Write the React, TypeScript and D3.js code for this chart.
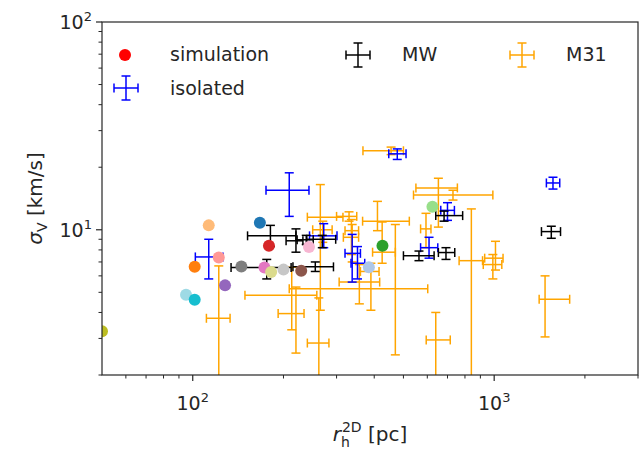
import React from 'react';
import * as d3 from 'd3';

// simulation points
const simX = [50, 95, 101.5, 101.5, 113, 122, 128, 145, 167, 179, 173, 182, 200, 229, 243, 384, 426, 624];
const simY = [3.25, 4.87, 4.6, 6.63, 10.5, 7.35, 5.4, 6.65, 10.8, 8.37, 6.58, 6.27, 6.43, 6.35, 8.27, 6.6, 8.37, 12.9];
const simColors = ['#bcbd22', '#9edae5', '#17becf', '#ff7f0e', '#ffbb78', '#ff9896', '#9467bd', '#7f7f7f', '#1f77b4',
  '#d62728', '#e377c2', '#dbdb8d', '#c7c7c7', '#8c564b', '#f7b6d2', '#aec7e8', '#2ca02c', '#98df8a'];

// MW satellites: x, xlo, xhi, y, ylo, yhi
const mwX = [181, 220, 238, 269, 176, 255, 682, 1547, 563, 692];
const mwXlo = [152, 204, 222, 239, 134, 215, 640, 1435, 500, 653];
const mwXhi = [220, 232, 251, 298, 212, 293, 786, 1660, 632, 740];
const mwY = [9.35, 8.85, 8.95, 9.0, 6.58, 6.63, 11.7, 9.8, 7.5, 7.77];
const mwYlo = [8.3, 7.8, 8.5, 8.2, 5.8, 6.3, 11.0, 9.1, 7.1, 7.2];
const mwYhi = [10.5, 10.1, 9.4, 9.4, 7.2, 7.0, 12.3, 10.4, 7.9, 8.2];

// isolated dwarfs
const isoX = [209, 113, 272, 338, 352, 477, 1567, 700, 608];
const isoXlo = [175, 102, 244, 320, 335, 447, 1490, 665, 570];
const isoXhi = [243, 126, 301, 360, 372, 510, 1650, 738, 650];
const isoY = [15.5, 7.4, 9.35, 7.7, 6.9, 23.2, 16.8, 12.4, 8.2];
const isoYlo = [11.6, 5.8, 8.2, 5.6, 5.8, 21.8, 15.7, 11.1, 7.3];
const isoYhi = [18.8, 9.0, 10.7, 9.5, 8.3, 24.5, 17.9, 13.5, 9.2];

// M31 satellites
const m31X = [265, 213, 220, 262, 122, 470, 357, 338, 270, 455, 330, 410, 425, 653, 840, 730, 594, 1010, 990, 1475, 640, 390, 336];
const m31Xlo = [240, 149, 192, 240, 111, 209, 306, 316, 250, 367, 300, 366, 395, 550, 765, 540, 570, 930, 920, 1410, 595, 360, 320];
const m31Xhi = [315, 258, 234, 283, 133, 602, 417, 355, 290, 500, 350, 523, 470, 755, 915, 990, 617, 1070, 1060, 1780, 715, 415, 355];
const m31Y = [11.5, 4.84, 3.95, 2.85, 3.75, 5.2, 5.6, 9.2, 10.0, 24, 11.6, 11.0, 7.8, 15.9, 7.1, 14.7, 10.1, 7.3, 6.8, 4.63, 2.95, 6.3, 9.9];
const m31Ylo = [4.1, 3.3, 2.55, 1.5, 1.2, 2.5, 4.4, 7.0, 8.7, 23, 11.0, 9.9, 6.9, 10.3, 1.5, 13.9, 8.2, 6.4, 5.8, 3.05, 1.5, 4.1, 7.6];
const m31Yhi = [16.5, 6.6, 5.3, 4.7, 6.7, 10.6, 6.8, 10.6, 11.0, 25, 12.2, 13.7, 10.9, 17.7, 12.6, 15.5, 12.0, 8.8, 7.6, 6.0, 4.0, 6.9, 11.2];

const xMajor = [100, 1000];
const yMajor = [10, 100];
const xMinor = [60, 70, 80, 90, 200, 300, 400, 500, 600, 700, 800, 900, 2000, 3000];
const yMinor = [2, 3, 4, 5, 6, 7, 8, 9, 20, 30, 40, 50, 60, 70, 80, 90];

const L = 102, R = 638, T = 22, B = 375;
const x = d3.scaleLog().domain([50, 3000]).range([L, R]);
const y = d3.scaleLog().domain([2, 100]).range([B, T]);

const font = 'DejaVu Sans, sans-serif';
const txt = '#262626';

function ErrBars({ xs, xlo, xhi, ys, ylo, yhi, color }: any) {
  const cap = 4.5;
  return (
    <g stroke={color} strokeWidth={1.5} fill="none">
      {xs.map((v: number, i: number) => {
        const cx = x(v), cy = y(ys[i]);
        const x0 = x(xlo[i]), x1 = x(xhi[i]), y0 = y(ylo[i]), y1 = y(yhi[i]);
        return (
          <g key={i}>
            <line x1={x0} x2={x1} y1={cy} y2={cy} />
            <line x1={cx} x2={cx} y1={y0} y2={y1} />
            <line x1={x0} x2={x0} y1={cy - cap} y2={cy + cap} />
            <line x1={x1} x2={x1} y1={cy - cap} y2={cy + cap} />
            <line x1={cx - cap} x2={cx + cap} y1={y0} y2={y0} />
            <line x1={cx - cap} x2={cx + cap} y1={y1} y2={y1} />
          </g>
        );
      })}
    </g>
  );
}

function LegendCross({ cx, cy, color }: any) {
  const h = 12, v = 12, cap = 4.5;
  return (
    <g stroke={color} strokeWidth={1.5}>
      <line x1={cx - h} x2={cx + h} y1={cy} y2={cy} />
      <line x1={cx} x2={cx} y1={cy - v} y2={cy + v} />
      <line x1={cx - h} x2={cx - h} y1={cy - cap} y2={cy + cap} />
      <line x1={cx + h} x2={cx + h} y1={cy - cap} y2={cy + cap} />
      <line x1={cx - cap} x2={cx + cap} y1={cy - v} y2={cy - v} />
      <line x1={cx - cap} x2={cx + cap} y1={cy + v} y2={cy + v} />
    </g>
  );
}

export default function App() {
  return (
    <svg width={644} height={450} style={{ position: 'absolute', left: 0, top: 0 }} fontFamily={font}>
      <rect width={644} height={450} fill="white" />
      <defs>
        <clipPath id="plot"><rect x={L} y={T} width={R - L} height={B - T} /></clipPath>
      </defs>
      <g clipPath="url(#plot)">
        <ErrBars xs={m31X} xlo={m31Xlo} xhi={m31Xhi} ys={m31Y} ylo={m31Ylo} yhi={m31Yhi} color="orange" />
        <ErrBars xs={isoX} xlo={isoXlo} xhi={isoXhi} ys={isoY} ylo={isoYlo} yhi={isoYhi} color="blue" />
        <ErrBars xs={mwX} xlo={mwXlo} xhi={mwXhi} ys={mwY} ylo={mwYlo} yhi={mwYhi} color="black" />
        {simX.map((v, i) => (
          <circle key={i} cx={x(v)} cy={y(simY[i])} r={6} fill={simColors[i]} />
        ))}
      </g>
      <rect x={L} y={T} width={R - L} height={B - T} fill="none" stroke={txt} strokeWidth={1.2} />
      {/* x ticks */}
      {xMajor.map(t => (
        <g key={t}>
          <line x1={x(t)} x2={x(t)} y1={B} y2={B + 6} stroke={txt} strokeWidth={1.2} />
          <text x={x(t)} y={B + 35} textAnchor="middle" fontSize={19} fill={txt}>
            10<tspan dy={-8} fontSize={13}>{Math.round(Math.log10(t))}</tspan>
          </text>
        </g>
      ))}
      {xMinor.map(t => (
        <line key={t} x1={x(t)} x2={x(t)} y1={B} y2={B + 3.5} stroke={txt} strokeWidth={1} />
      ))}
      {yMajor.map(t => (
        <g key={t}>
          <line x1={L - 6} x2={L} y1={y(t)} y2={y(t)} stroke={txt} strokeWidth={1.2} />
          <text x={L - 10} y={y(t) + 7} textAnchor="end" fontSize={19} fill={txt}>
            10<tspan dy={-8} fontSize={13}>{Math.round(Math.log10(t))}</tspan>
          </text>
        </g>
      ))}
      {yMinor.map(t => (
        <line key={t} x1={L - 3.5} x2={L} y1={y(t)} y2={y(t)} stroke={txt} strokeWidth={1} />
      ))}
      {/* axis labels */}
      <text x={(L + R) / 2} y={441} textAnchor="middle" fontSize={20} fill={txt}>
        <tspan fontStyle="italic">r</tspan><tspan dy={6} fontSize={14}>h</tspan>
        <tspan dy={-15} fontSize={14} dx={-8}>2D</tspan><tspan dy={9}> [pc]</tspan>
      </text>
      <text transform={`translate(42,${(T + B) / 2}) rotate(-90)`} textAnchor="middle" fontSize={20} fill={txt}>
        <tspan fontStyle="italic">σ</tspan><tspan dy={5} fontSize={14}>V</tspan><tspan dy={-5}> [km/s]</tspan>
      </text>
      {/* legend */}
      <circle cx={125} cy={55} r={6} fill="red" />
      <text x={170} y={61} fontSize={19} fill={txt}>simulation</text>
      <LegendCross cx={126} cy={88} color="blue" />
      <text x={170} y={95} fontSize={19} fill={txt}>isolated</text>
      <LegendCross cx={358} cy={55} color="black" />
      <text x={402} y={61} fontSize={19} fill={txt}>MW</text>
      <LegendCross cx={522} cy={55} color="orange" />
      <text x={566} y={61} fontSize={19} fill={txt}>M31</text>
    </svg>
  );
}
